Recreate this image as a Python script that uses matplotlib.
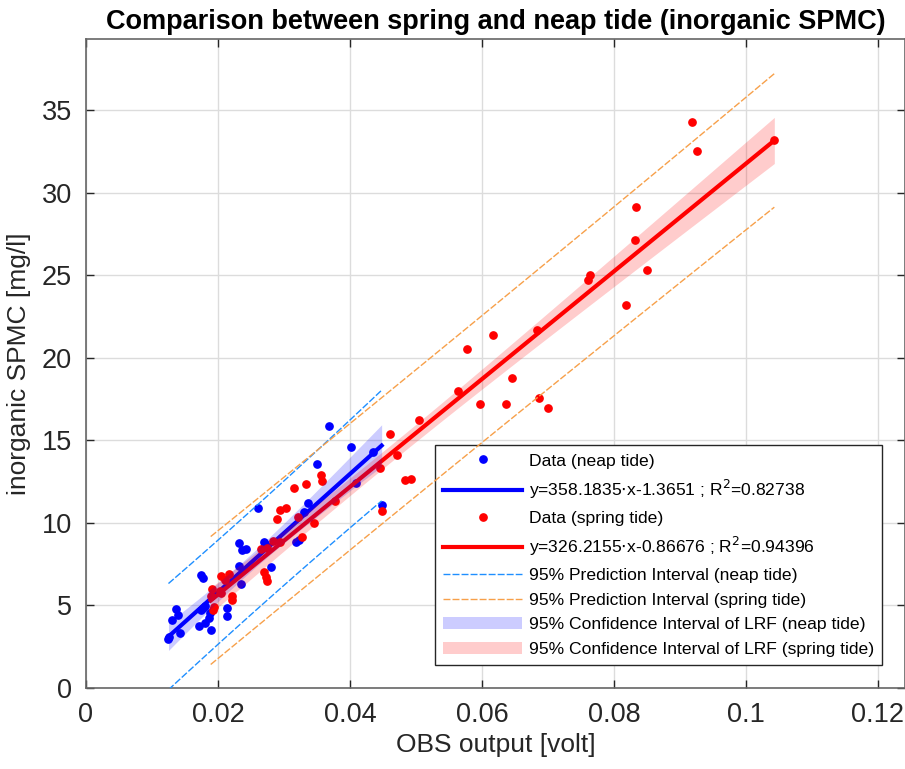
import matplotlib
matplotlib.use("Agg")
import matplotlib.pyplot as plt
import numpy as np

plt.rcParams['font.family'] = ['Liberation Sans', 'DejaVu Sans']

# neap tide samples (OBS volt, SPMC mg/l)
neap_x = np.array([0.0368, 0.0401, 0.0350, 0.0435, 0.0337, 0.0331, 0.0409, 0.0448,
                   0.0261, 0.0318, 0.0323, 0.0269, 0.0272, 0.0232, 0.0236, 0.0243,
                   0.0280, 0.0232, 0.0174, 0.0178, 0.0235, 0.0137, 0.0140, 0.0131,
                   0.0126, 0.0125, 0.0142, 0.0172, 0.0180, 0.0186, 0.0189, 0.0175,
                   0.0178, 0.0181, 0.0213, 0.0213, 0.0188])
neap_y = np.array([15.85, 14.6, 13.55, 14.3, 11.2, 10.65, 12.4, 11.1,
                   10.9, 8.83, 8.98, 8.83, 8.7, 8.79, 8.34, 8.42,
                   7.35, 7.41, 6.82, 6.69, 6.28, 4.77, 4.42, 4.12,
                   3.1, 2.95, 3.35, 3.75, 3.95, 4.22, 3.52, 4.75,
                   4.85, 4.95, 4.87, 4.38, 4.52])

# spring tide samples
spring_x = np.array([0.0918, 0.0926, 0.1043, 0.0834, 0.0832, 0.0850, 0.0764, 0.0761,
                     0.0818, 0.0684, 0.0616, 0.0578, 0.0563, 0.0645, 0.0597, 0.0636,
                     0.0687, 0.0700, 0.0505, 0.0460, 0.0472, 0.0446, 0.0484, 0.0492,
                     0.0448, 0.0356, 0.0358, 0.0315, 0.0333, 0.0377, 0.0346, 0.0303,
                     0.0294, 0.0289, 0.0322, 0.0327, 0.0283, 0.0294, 0.0275, 0.0265,
                     0.0269, 0.0273, 0.0275, 0.0204, 0.0217, 0.0210, 0.0191, 0.0203,
                     0.0205, 0.0189, 0.0221, 0.0222, 0.0194, 0.0193])
spring_y = np.array([34.3, 32.5, 33.2, 29.1, 27.1, 25.3, 25.0, 24.7,
                     23.2, 21.7, 21.35, 20.5, 18.0, 18.75, 17.2, 17.2,
                     17.55, 16.95, 16.2, 15.4, 14.1, 13.3, 12.6, 12.65,
                     10.7, 12.9, 12.55, 12.1, 12.35, 11.3, 10.0, 10.9,
                     10.8, 10.25, 10.35, 9.15, 8.9, 8.85, 8.5, 8.4,
                     7.0, 6.75, 6.5, 6.8, 6.9, 6.55, 6.0, 5.85,
                     5.75, 5.55, 5.6, 5.35, 4.88, 4.72])

# regression coefficients quoted in the legend
neap_coef = (358.1835, -1.3651, 0.82738)
spring_coef = (326.2155, -0.86676, 0.94396)
t_neap = 2.03
t_spring = 2.006


def bands(x, y, coef, t):
    a, b = coef[0], coef[1]
    n = len(x)
    s = np.sqrt(np.sum((y - (a * x + b)) ** 2) / (n - 2))
    xs = np.linspace(x.min(), x.max(), 100)
    sxx = np.sum((x - x.mean()) ** 2)
    fit = a * xs + b
    ci = t * s * np.sqrt(1.0 / n + (xs - x.mean()) ** 2 / sxx)
    pi = t * s * np.sqrt(1 + 1.0 / n + (xs - x.mean()) ** 2 / sxx)
    return xs, fit, ci, pi


fig = plt.figure(figsize=(9.05, 7.69), dpi=100)
ax = fig.add_axes([0.095, 0.1053, 0.905, 0.844])

nx, nfit, nci, npi = bands(neap_x, neap_y, neap_coef, t_neap)
sx, sfit, sci, spi = bands(spring_x, spring_y, spring_coef, t_spring)

pi_blue = '#1f8fff'
pi_orange = '#f7a04a'

h1, = ax.plot(neap_x, neap_y, '.', color='#0000ff', ms=10.5, zorder=3,
              label='Data (neap tide)')
h2, = ax.plot(nx, nfit, '-', color='#0000ff', lw=3, zorder=4,
              label='y=%.4f$\\cdot$x%.4f ; R$^2$=%.5f' % neap_coef)
h3, = ax.plot(spring_x, spring_y, '.', color='#ff0000', ms=10.5, zorder=5,
              label='Data (spring tide)')
h4, = ax.plot(sx, sfit, '-', color='#ff0000', lw=3, zorder=6,
              label='y=%.4f$\\cdot$x%.5f ; R$^2$=%.5f' % spring_coef)
h5, = ax.plot(nx, nfit + npi, '--', color=pi_blue, lw=1, dashes=(5, 1.5), zorder=7,
              label='95% Prediction Interval (neap tide)')
ax.plot(nx, nfit - npi, '--', color=pi_blue, lw=1, dashes=(5, 1.5), zorder=7)
h6, = ax.plot(sx, sfit + spi, '--', color=pi_orange, lw=1, dashes=(5, 1.5), zorder=8,
              label='95% Prediction Interval (spring tide)')
ax.plot(sx, sfit - spi, '--', color=pi_orange, lw=1, dashes=(5, 1.5), zorder=8)
h7 = ax.fill_between(nx, nfit - nci, nfit + nci, color='#0000ff', alpha=0.2,
                     lw=0, zorder=9, label='95% Confidence Interval of LRF (neap tide)')
h8 = ax.fill_between(sx, sfit - sci, sfit + sci, color='#ff0000', alpha=0.2,
                     lw=0, zorder=10, label='95% Confidence Interval of LRF (spring tide)')

ax.set_xlim(0, 0.1241)
ax.set_ylim(0, 39.3)
ax.set_xticks([0, 0.02, 0.04, 0.06, 0.08, 0.1, 0.12])
ax.set_xticklabels(['0', '0.02', '0.04', '0.06', '0.08', '0.1', '0.12'])
ax.set_yticks([0, 5, 10, 15, 20, 25, 30, 35])
ax.grid(True, color='#dcdcdc', lw=1)
ax.set_axisbelow(True)
ax.tick_params(direction='in', top=True, right=True, labelsize=19.5,
               colors='#262626', length=6, width=1)
ax.tick_params(axis='x', pad=10)
ax.tick_params(axis='y', pad=10)
for sp in ax.spines.values():
    sp.set_color('#666666')
    sp.set_linewidth(1.2)

ax.set_xlabel('OBS output [volt]', fontsize=19, color='#262626', labelpad=4)
ax.set_ylabel('inorganic SPMC [mg/l]', fontsize=19, color='#262626', labelpad=8)
ax.set_title('Comparison between spring and neap tide (inorganic SPMC)',
             fontsize=19.5, fontweight='bold', pad=7)

leg = ax.legend(handles=[h1, h2, h3, h4, h5, h6, h7, h8], loc='lower right',
                bbox_to_anchor=(0.972, 0.0354), fontsize=12.6, fancybox=False,
                framealpha=1, edgecolor='#262626', borderpad=0.45, labelspacing=0.54,
                handlelength=4.5, handletextpad=0.4, borderaxespad=0)
leg.get_frame().set_linewidth(1)

fig.savefig('out.png', dpi=100)
